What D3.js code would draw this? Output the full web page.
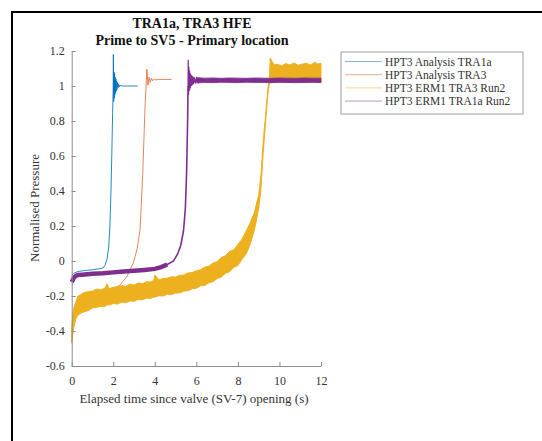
<!DOCTYPE html>
<html><head><meta charset="utf-8">
<script src="https://cdn.jsdelivr.net/npm/d3@7"></script>
<style>body{margin:0;background:#fff}svg{display:block}text{font-family:"Liberation Serif","Times New Roman",serif}</style>
</head><body><svg id="c" width="542" height="441"></svg>
<script>
// ---- data ----
const titleLines = ["TRA1a, TRA3 HFE", "Prime to SV5 - Primary location"];
const xLabel = "Elapsed time since valve (SV-7) opening (s)";
const yLabel = "Normalised Pressure";
const xTicks = [0, 2, 4, 6, 8, 10, 12];
const yTicks = [-0.6, -0.4, -0.2, 0, 0.2, 0.4, 0.6, 0.8, 1, 1.2];
const yTickLabels = ["-0.6", "-0.4", "-0.2", "0", "0.2", "0.4", "0.6", "0.8", "1", "1.2"];
const seriesNames = ["HPT3 Analysis TRA1a", "HPT3 Analysis TRA3", "HPT3 ERM1 TRA3 Run2", "HPT3 ERM1 TRA1a Run2"];
const seriesColors = ["#0072BD", "#D95319", "#EDB120", "#7E2F8E"];

// HPT3 Analysis TRA1a
const blueT = [0, 0.1, 0.3, 0.6, 1.0, 1.3, 1.5, 1.6, 1.7, 1.78, 1.84, 1.89, 1.93, 1.97, 1.995, 2.005, 2.02, 2.035, 2.05, 2.065, 2.08, 2.095, 2.11, 2.125, 2.14, 2.16, 2.18, 2.2, 2.23, 2.26, 2.3, 2.35, 2.4, 2.5, 2.7, 3.0, 3.18];
const blueV = [-0.08, -0.07, -0.06, -0.055, -0.05, -0.045, -0.04, -0.025, 0.01, 0.08, 0.2, 0.4, 0.6, 0.85, 0.97, 1.18, 0.91, 1.08, 0.93, 1.07, 0.95, 1.05, 0.96, 1.04, 0.97, 1.03, 0.98, 1.02, 0.99, 1.012, 0.995, 1.006, 1.0, 1.0, 1.0, 1.0, 1.0];

// HPT3 Analysis TRA3
const orangeT = [0.3, 1.0, 1.7, 2.0, 2.3, 2.65, 2.97, 3.15, 3.29, 3.42, 3.53, 3.58, 3.62, 3.67, 3.72, 3.78, 3.84, 3.9, 3.97, 4.05, 4.2, 4.5, 4.81];
const orangeV = [-0.23, -0.19, -0.17, -0.16, -0.14, -0.09, -0.01, 0.07, 0.18, 0.5, 0.88, 1.0, 1.095, 1.005, 1.05, 1.02, 1.045, 1.03, 1.04, 1.035, 1.038, 1.037, 1.038];

// HPT3 ERM1 TRA3 Run2 (noisy band: low / high envelope)
const yellowT  = [0, 0.05, 0.1, 0.2, 0.3, 0.4, 0.6, 0.8, 1.0, 1.2, 1.4, 1.6, 1.7, 1.8, 2.0, 2.2, 2.4, 2.6, 2.8, 3.0, 3.2, 3.4, 3.6, 3.8, 3.95, 4.0, 4.2, 4.4, 4.6, 4.8, 5.0, 5.2, 5.4, 5.6, 5.8, 6.0, 6.2, 6.4, 6.6, 6.8, 7.0, 7.2, 7.4, 7.6, 7.8, 8.0, 8.2, 8.42, 8.6, 8.8, 9.0, 9.1, 9.22, 9.35, 9.45, 9.52, 9.56, 9.65, 9.75, 9.9, 10.1, 10.3, 10.5, 10.7, 10.9, 11.1, 11.3, 11.5, 11.7, 11.85, 12.0];
const yellowLo = [-0.47, -0.42, -0.38, -0.33, -0.31, -0.3, -0.29, -0.283, -0.268, -0.265, -0.258, -0.26, -0.25, -0.252, -0.243, -0.246, -0.235, -0.238, -0.228, -0.23, -0.22, -0.222, -0.212, -0.214, -0.205, -0.207, -0.198, -0.2, -0.19, -0.192, -0.183, -0.182, -0.172, -0.17, -0.158, -0.156, -0.142, -0.14, -0.124, -0.118, -0.1, -0.092, -0.07, -0.062, -0.036, -0.025, 0.01, 0.045, 0.1, 0.18, 0.3, 0.4, 0.62, 0.82, 0.96, 1.02, 1.02, 1.02, 1.02, 1.02, 1.02, 1.02, 1.02, 1.02, 1.02, 1.02, 1.02, 1.02, 1.02, 1.02, 1.02];
const yellowHi = [-0.38, -0.31, -0.27, -0.235, -0.2, -0.195, -0.18, -0.175, -0.172, -0.16, -0.166, -0.155, -0.13, -0.158, -0.15, -0.148, -0.14, -0.145, -0.132, -0.138, -0.125, -0.13, -0.118, -0.12, -0.11, -0.08, -0.108, -0.1, -0.098, -0.09, -0.092, -0.082, -0.08, -0.068, -0.066, -0.055, -0.05, -0.035, -0.03, -0.012, -0.004, 0.02, 0.03, 0.055, 0.064, 0.095, 0.125, 0.177, 0.22, 0.28, 0.38, 0.48, 0.68, 0.86, 0.99, 1.06, 1.16, 1.14, 1.12, 1.125, 1.115, 1.128, 1.12, 1.132, 1.118, 1.125, 1.13, 1.12, 1.135, 1.125, 1.13];

// HPT3 ERM1 TRA1a Run2: low thick section (centre line), rise + ringing, settled noisy band
const purpleT = [0, 0.05, 0.1, 0.2, 0.3, 0.5, 1.0, 1.5, 2.0, 2.5, 3.0, 3.5, 4.0, 4.3, 4.6, 4.9, 5.1, 5.25, 5.38, 5.47, 5.53, 5.58, 5.6];
const purpleV = [-0.12, -0.11, -0.095, -0.085, -0.08, -0.078, -0.073, -0.07, -0.065, -0.06, -0.056, -0.051, -0.045, -0.035, -0.02, 0.0, 0.04, 0.09, 0.17, 0.3, 0.5, 0.8, 1.0];
const purpleRingT = [5.6, 5.61, 5.625, 5.64, 5.655, 5.67, 5.685, 5.7, 5.72, 5.74, 5.76, 5.78, 5.8, 5.83, 5.86, 5.9, 5.95, 6.0, 6.1, 6.2];
const purpleRingV = [1.0, 1.15, 0.95, 1.11, 0.97, 1.09, 0.98, 1.075, 0.99, 1.065, 1.0, 1.06, 1.005, 1.055, 1.01, 1.05, 1.015, 1.045, 1.02, 1.04];
const purpleBandT  = [6.0, 6.4, 6.8, 7.2, 7.6, 8.0, 8.4, 8.8, 9.2, 9.6, 10.0, 10.4, 10.8, 11.2, 11.6, 12.0];
const purpleBandLo = [1.018, 1.02, 1.019, 1.021, 1.02, 1.019, 1.021, 1.02, 1.02, 1.019, 1.021, 1.02, 1.019, 1.02, 1.021, 1.02];
const purpleBandHi = [1.048, 1.045, 1.046, 1.044, 1.046, 1.045, 1.044, 1.046, 1.045, 1.044, 1.046, 1.045, 1.044, 1.046, 1.045, 1.045];

// ---- chart ----
const svg = d3.select("#c");
const x = d3.scaleLinear().domain([0, 12]).range([71.7, 321]);
const y = d3.scaleLinear().domain([-0.6, 1.2]).range([366, 51]);

svg.append("rect").attr("x", 12).attr("y", 12).attr("width", 700).attr("height", 700)
  .attr("fill", "none").attr("stroke", "#000").attr("stroke-width", 2);

const line = d3.line().x(d => x(d[0])).y(d => y(d[1]));
const area = d3.area().x(d => x(d[0])).y0(d => y(d[1])).y1(d => y(d[2]));
const zip2 = (a, b) => a.map((v, i) => [v, b[i]]);
const zip3 = (a, b, c) => a.map((v, i) => [v, b[i], c[i]]);

const g = svg.append("g");
g.append("path").attr("d", line(zip2(blueT, blueV))).attr("fill", "none")
  .attr("stroke", seriesColors[0]).attr("stroke-width", 1).attr("stroke-opacity", 0.85);
g.append("path").attr("d", line(zip2(orangeT, orangeV))).attr("fill", "none")
  .attr("stroke", seriesColors[1]).attr("stroke-width", 1).attr("stroke-opacity", 0.7);
g.append("path").attr("d", area(zip3(yellowT, yellowLo, yellowHi)))
  .attr("fill", seriesColors[2]).attr("stroke", seriesColors[2]).attr("stroke-width", 1);
g.append("path").attr("d", line(zip2(purpleT, purpleV))).attr("fill", "none")
  .attr("stroke", seriesColors[3]).attr("stroke-width", 1.6);
g.append("path").attr("d", line(zip2(purpleT.filter(t => t <= 4.6), purpleV.filter((v, i) => purpleT[i] <= 4.6))))
  .attr("fill", "none").attr("stroke", seriesColors[3]).attr("stroke-width", 4.5);
g.append("path").attr("d", line(zip2(purpleRingT, purpleRingV))).attr("fill", "none")
  .attr("stroke", seriesColors[3]).attr("stroke-width", 1.2);
g.append("path").attr("d", area(zip3(purpleBandT, purpleBandLo, purpleBandHi)))
  .attr("fill", seriesColors[3]).attr("stroke", seriesColors[3]).attr("stroke-width", 0.8);

// axes
const ax = svg.append("g").attr("transform", `translate(0,${y(-0.6)})`)
  .call(d3.axisBottom(x).tickValues(xTicks).tickSizeInner(-4).tickSizeOuter(0).tickPadding(10).tickFormat(d3.format("d")));
const ay = svg.append("g").attr("transform", `translate(${x(0)},0)`)
  .call(d3.axisLeft(y).tickValues(yTicks).tickSizeInner(-4).tickSizeOuter(0).tickPadding(7).tickFormat((d, i) => yTickLabels[i]));
[ax, ay].forEach(a => {
  a.select(".domain").attr("stroke", "#8c8c8c");
  a.selectAll(".tick line").attr("stroke", "#8c8c8c");
  a.selectAll(".tick text").attr("fill", "#333").style("font-size", "12px").style("font-family", "Liberation Serif");
});

// titles & labels
svg.append("text").attr("x", 192).attr("y", 28).attr("text-anchor", "middle")
  .style("font-size", "14px").style("font-weight", "bold").attr("fill", "#111").text(titleLines[0]);
svg.append("text").attr("x", 192).attr("y", 45).attr("text-anchor", "middle")
  .style("font-size", "14px").style("font-weight", "bold").attr("fill", "#111").text(titleLines[1]);
svg.append("text").attr("x", 194).attr("y", 403).attr("text-anchor", "middle")
  .style("font-size", "13px").attr("fill", "#333").text(xLabel);
svg.append("text").attr("transform", "translate(39,208) rotate(-90)").attr("text-anchor", "middle")
  .style("font-size", "13px").attr("fill", "#333").text(yLabel);

// legend
const lg = svg.append("g");
lg.append("rect").attr("x", 341).attr("y", 52).attr("width", 182).attr("height", 62)
  .attr("fill", "#fff").attr("stroke", "#a0a0a0").attr("stroke-width", 1);
seriesNames.forEach((n, i) => {
  const yy = 61.5 + i * 13.2;
  lg.append("line").attr("x1", 345).attr("x2", 382).attr("y1", yy).attr("y2", yy)
    .attr("stroke", seriesColors[i]).attr("stroke-width", 1).attr("stroke-opacity", 0.5);
  lg.append("text").attr("x", 385).attr("y", yy + 4).style("font-size", "11.5px").attr("fill", "#333").text(n);
});
</script></body></html>
